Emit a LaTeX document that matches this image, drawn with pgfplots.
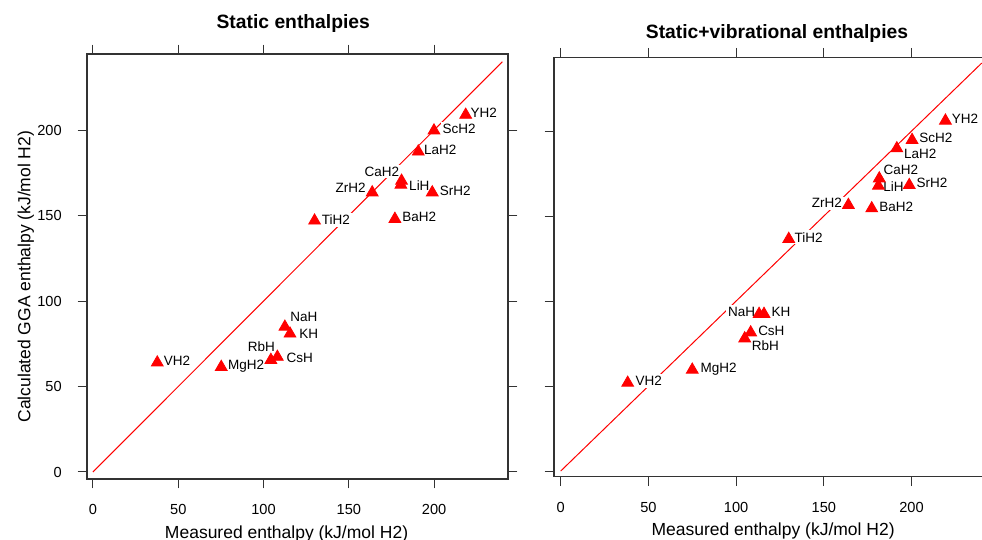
\documentclass[border=0pt]{standalone}
\usepackage{fontspec}
\setmainfont{Liberation Sans}
\usepackage{pgfplots}
\usepackage{pgfplotstable}
\pgfplotsset{compat=1.18}

% x, y, label, shift of the label centre from the point (pt)
\pgfplotstableread[col sep=comma]{
x,y,label,dx,dy
218.5,208.9,YH2,9.05,1.2
199.9,199.7,ScH2,12.55,0.9
190.7,187.4,LaH2,11.05,0.9
180.9,170.3,CaH2,-9.8,4.7
180.5,168.0,LiH,9.25,-0.3
198.9,163.5,SrH2,11.5,0.9
163.7,163.5,ZrH2,-10.8,2.2
129.9,147.0,TiH2,10.6,0.5
177.0,148.0,BaH2,12.15,0.9
112.5,84.9,NaH,9.5,4.8
115.5,80.9,KH,9.4,0.1
104.3,65.5,RbH,-4.7,6.9
108.1,67.3,CsH,11.25,-0.4
37.7,64.0,VH2,9.9,0.9
75.2,61.4,MgH2,12.5,0.5
}\statictab

\pgfplotstableread[col sep=comma]{
x,y,label,dx,dy
219.3,206.1,YH2,9.75,0.9
200.3,194.7,ScH2,11.95,0.9
191.6,189.8,LaH2,11.7,-2.6
181.6,172.1,CaH2,10.75,4.1
181.1,167.8,LiH,7.5,-0.6
198.7,168.2,SrH2,11.4,0.9
164.0,156.5,ZrH2,-10.8,0.9
177.3,154.5,BaH2,12.25,0.6
130.0,136.5,TiH2,9.9,0.9
113.1,92.4,NaH,-8.75,0.9
115.9,92.4,KH,8.5,0.9
108.3,81.5,CsH,10.35,0.8
104.9,78.0,RbH,10.3,-3.5
75.0,59.6,MgH2,13.2,0.2
38.2,51.9,VH2,10.55,0.9
}\vibtab

\pgfplotsset{
  panel/.style={
    scale only axis, anchor=south west,
    xtick={0,50,100,150,200}, ytick={0,50,100,150,200},
    tick align=outside, major tick length=4.7pt, tick pos=both,
    axis line style={black!80,line width=0.6pt},
    major tick style={black!80,line width=0.5pt},
    tick label style={font=\fontsize{7.3}{8.5}\selectfont},
    yticklabel style={xshift=-4.4pt},
    xticklabel style={yshift=-4.5pt},
    /pgf/number format/assume math mode=true,
    label style={font=\fontsize{8.75}{10}\selectfont},
    title style={font=\bfseries\fontsize{9.65}{11}\selectfont,anchor=base},
  },
  lbls/.style={
    black, only marks, mark=*, mark size=0pt, mark options={draw=none,fill=none},
    point meta=explicit symbolic, nodes near coords,
    visualization depends on={\thisrow{dx} \as \lbldx},
    visualization depends on={\thisrow{dy} \as \lbldy},
    every node near coord/.append style={anchor=center,xshift=\lbldx,yshift=\lbldy,
      font=\fontsize{6.75}{8}\selectfont,fill=white,inner sep=1pt,text=black},
  },
  pts/.style={only marks, mark=triangle*, mark size=3.4pt, color=red, mark options={fill=red,draw=none}},
}

\begin{document}
\begin{tikzpicture}
\begin{axis}[panel, at={(43.5pt,30.5pt)}, width=210.5pt, height=212.5pt,
  xmin=-3.5, xmax=243.3, ymin=-4.1, ymax=244.5,
  title={Static enthalpies}, title style={at={(axis description cs:0.49,1.0322)}},
  xlabel={Measured enthalpy (kJ/mol H2)}, xlabel style={at={(axis description cs:0.474,-0.14)},anchor=base},
  ylabel={Calculated GGA enthalpy (kJ/mol H2)}, ylabel style={at={(axis description cs:-0.1342,0.476)},anchor=base}]
\addplot[red, line width=0.5pt, no marks] coordinates {(0,0) (240,240)};
\addplot[lbls] table[x=x,y=y,meta=label]{\statictab};
\addplot[pts] table[x=x,y=y]{\statictab};
\end{axis}
\begin{axis}[panel, at={(277pt,31.65pt)}, width=216.5pt, height=209.7pt,
  xmin=-3.8, xmax=243.0, ymin=-3.3, ymax=243.4, yticklabels={},
  title={Static+vibrational enthalpies}, title style={at={(axis description cs:0.515,1.0167)}},
  xlabel={Measured enthalpy (kJ/mol H2)}, xlabel style={at={(axis description cs:0.506,-0.1392)},anchor=base}]
\addplot[red, line width=0.5pt, no marks] coordinates {(0,0) (240,240)};
\addplot[lbls] table[x=x,y=y,meta=label]{\vibtab};
\addplot[pts] table[x=x,y=y]{\vibtab};
\end{axis}
\pgfresetboundingbox
\useasboundingbox (0,0) rectangle (491pt,270pt);
\end{tikzpicture}
\end{document}
